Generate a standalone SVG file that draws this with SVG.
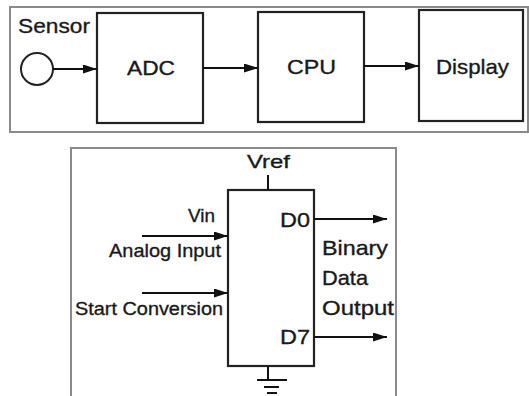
<svg xmlns="http://www.w3.org/2000/svg" width="529" height="396" viewBox="0 0 529 396">
<defs>
<marker id="ah" markerWidth="14" markerHeight="9" refX="14" refY="4.5" orient="auto" markerUnits="userSpaceOnUse">
<path d="M0,0 L14,4.5 L0,9 Z" fill="#111"/>
</marker>
<style>
.frame{fill:#fff;stroke:#8a8a8a;stroke-width:2}
.box{fill:#fff;stroke:#222;stroke-width:2.2}
.wire{fill:none;stroke:#111;stroke-width:2}
.arrow{fill:none;stroke:#111;stroke-width:2;marker-end:url(#ah)}
text{font-family:"Liberation Sans",Arial,sans-serif;fill:#1a1a1a;stroke:#1a1a1a;stroke-width:0.35}
.big{font-size:21px}
.mid{font-size:19px}
</style>
</defs>
<rect width="529" height="396" fill="#fff"/>
<g id="top-frame"><rect class="frame" x="10" y="7" width="518" height="125"/></g>
<g id="bottom-frame"><path class="frame" d="M71,400 L71,148 L396,148 L396,400"/></g>
<g id="sensor">
<text class="big" x="18" y="33" textLength="72" lengthAdjust="spacingAndGlyphs">Sensor</text>
<circle cx="37" cy="69" r="16" fill="#fff" stroke="#222" stroke-width="2"/>
</g>
<g id="adc">
<rect class="box" x="97" y="13" width="106" height="110"/>
<text class="big" x="151" y="75" text-anchor="middle" textLength="48" lengthAdjust="spacingAndGlyphs">ADC</text>
</g>
<g id="cpu">
<rect class="box" x="258" y="12" width="106" height="110"/>
<text class="big" x="311.5" y="74" text-anchor="middle" textLength="49" lengthAdjust="spacingAndGlyphs">CPU</text>
</g>
<g id="display">
<rect class="box" x="419" y="10" width="104" height="111"/>
<text class="big" x="472.5" y="74" text-anchor="middle" textLength="73" lengthAdjust="spacingAndGlyphs">Display</text>
</g>
<g id="adc-chip">
<rect class="box" x="228" y="190" width="86" height="176"/>
<text class="mid" x="268.5" y="168" text-anchor="middle" textLength="43" lengthAdjust="spacingAndGlyphs">Vref</text>
<text class="big" x="310" y="227" text-anchor="end" textLength="30" lengthAdjust="spacingAndGlyphs">D0</text>
<text class="big" x="310" y="344" text-anchor="end" textLength="30" lengthAdjust="spacingAndGlyphs">D7</text>
</g>
<g id="ground">
<path class="wire" d="M268,366 V380 M257,380 H287 M264,387 H279 M267,393 H277"/>
</g>
<g id="labels">
<text class="mid" x="215" y="222" text-anchor="end" textLength="27" lengthAdjust="spacingAndGlyphs">Vin</text>
<text class="mid" x="221" y="257" text-anchor="end" textLength="112" lengthAdjust="spacingAndGlyphs">Analog Input</text>
<text class="mid" x="75" y="315" textLength="148" lengthAdjust="spacingAndGlyphs">Start Conversion</text>
<text class="big" x="322" y="255" textLength="66" lengthAdjust="spacingAndGlyphs">Binary</text>
<text class="big" x="322" y="285" textLength="46" lengthAdjust="spacingAndGlyphs">Data</text>
<text class="big" x="322" y="315" textLength="72" lengthAdjust="spacingAndGlyphs">Output</text>
</g>
<g id="connectors">
<line class="arrow" x1="53" y1="69" x2="97" y2="69"/>
<line class="arrow" x1="203" y1="68" x2="258" y2="68"/>
<line class="arrow" x1="364" y1="66" x2="419" y2="66"/>
<line class="wire" x1="268" y1="175" x2="268" y2="190"/>
<line class="arrow" x1="142" y1="236" x2="228" y2="236"/>
<line class="arrow" x1="142" y1="293" x2="228" y2="293"/>
<line class="arrow" x1="314" y1="219" x2="387" y2="219"/>
<line class="arrow" x1="314" y1="337" x2="387" y2="337"/>
</g>
</svg>
